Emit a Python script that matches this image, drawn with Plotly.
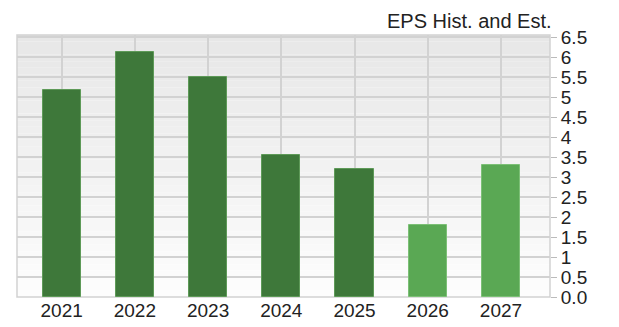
import plotly.graph_objects as go

years = ["2021", "2022", "2023", "2024", "2025", "2026", "2027"]
eps = [5.18, 6.12, 5.51, 3.55, 3.19, 1.80, 3.29]
kind = ["hist", "hist", "hist", "hist", "hist", "est", "est"]
ytick_vals = [0, 0.5, 1, 1.5, 2, 2.5, 3, 3.5, 4, 4.5, 5, 5.5, 6, 6.5]
ytick_text = ["0.0", "0.5", "1", "1.5", "2", "2.5", "3", "3.5", "4", "4.5", "5", "5.5", "6", "6.5"]

colors = {"hist": "#3e783a", "est": "#5aa854"}
edge = {"hist": "#5e9a58", "est": "#7cc076"}

xpos = list(range(len(years)))
fig = go.Figure()
fig.add_trace(go.Bar(
    x=xpos, y=eps, width=0.52,
    marker=dict(color=[colors[k] for k in kind],
                line=dict(color=[edge[k] for k in kind], width=1)),
    hoverinfo="skip",
))

# vertical gradient background
shapes = []
n = 40
for i in range(n):
    t = i / (n - 1)
    v = int(round(231 + (253 - 231) * (1 - t)))
    c = f"rgb({v},{v},{v})"
    shapes.append(dict(type="rect", xref="paper", yref="paper",
                       x0=0, x1=1, y0=i / n, y1=(i + 1) / n,
                       fillcolor=c, line=dict(width=0), layer="below"))
shapes.append(dict(type="rect", xref="paper", yref="paper", x0=0, x1=1, y0=0, y1=1,
                   line=dict(color="#d2d2d2", width=1.5), fillcolor="rgba(0,0,0,0)", layer="below"))

fig.update_layout(
    width=619, height=327,
    margin=dict(l=17, r=69, t=35, b=30),
    paper_bgcolor="white", plot_bgcolor="white",
    showlegend=False, bargap=0,
    shapes=shapes,
    font=dict(family="Liberation Sans, Arial, sans-serif", size=19, color="#222"),
    xaxis=dict(range=[-0.61, 6.67], tickvals=xpos, ticktext=years,
               showgrid=True, gridcolor="#d2d2d2", gridwidth=1.5,
               zeroline=False, showline=False, ticks="", ticklen=0,
               automargin=False,
               tickfont=dict(size=19, color="#222")),
    yaxis=dict(side="right", range=[0, 6.55], tickvals=ytick_vals, ticktext=ytick_text,
               showgrid=True, gridcolor="#d2d2d2", gridwidth=1.5,
               zeroline=False, showline=False, ticks="outside", ticklen=6,
               automargin=False,
               tickcolor="#bbbbbb", tickfont=dict(size=19, color="#222")),
    annotations=[dict(text="EPS Hist. and Est.", xref="paper", yref="paper",
                      x=(554 - 17) / 533, y=1, xanchor="right", yanchor="bottom",
                      yshift=1, showarrow=False,
                      font=dict(size=20, color="#222"))],
)
fig.write_html("out.html")
